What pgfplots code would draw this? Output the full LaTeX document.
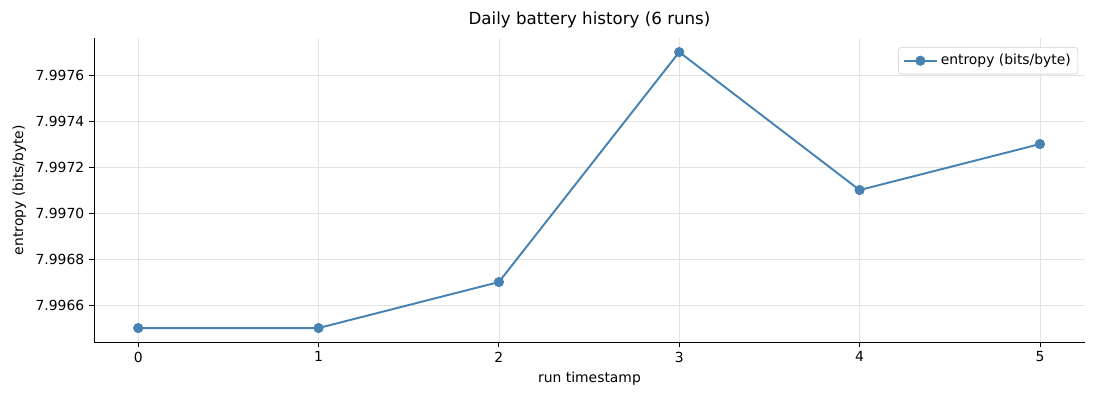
\documentclass[border=0pt]{standalone}
\usepackage{fontspec}
\setmainfont{DejaVu Sans}
\usepackage{pgfplots}
\pgfplotsset{compat=1.18}
\definecolor{steel}{HTML}{4682B4}
\begin{document}
\begin{tikzpicture}
\begin{axis}[
  scale only axis,
  width=713.5pt, height=218.9pt,
  xmin=-0.245, xmax=5.25,
  ymin=7.996439, ymax=7.997761,
  xtick={0,1,2,3,4,5},
  ytick={7.9966,7.9968,7.9970,7.9972,7.9974,7.9976},
  yticklabel style={/pgf/number format/fixed, /pgf/number format/precision=4, /pgf/number format/zerofill},
  /pgf/number format/assume math mode=true,
  tick label style={font=\fontsize{10}{12}\selectfont},
  label style={font=\fontsize{10}{12}\selectfont},
  title style={font=\fontsize{12}{14}\selectfont, yshift=-2pt},
  title={Daily battery history (6 runs)},
  xlabel={run timestamp},
  ylabel={entropy (bits/byte)},
  axis x line*=bottom, axis y line*=left,
  axis line style={-, black, line width=0.6pt},
  tick style={black, line width=0.6pt},
  tick align=outside, major tick length=3.5pt,
  grid=major,
  grid style={gray!22, line width=0.5pt},
  legend style={at={(0.993,0.97)}, anchor=north east, draw=gray!40, rounded corners=2pt,
    font=\fontsize{10}{12}\selectfont, inner xsep=3pt, inner ysep=3pt},
  legend cell align=left,
  legend image code/.code={
    \draw[#1, line width=1.4pt] (0pt,0pt) -- (24pt,0pt);
    \draw[#1, mark repeat=2, mark phase=2] plot coordinates {(0pt,0pt) (12pt,0pt) (24pt,0pt)};
  },
]
\addplot[color=steel, line width=1.4pt, mark=*, mark size=3.4pt, mark options={fill=steel, line width=0.5pt}]
coordinates {
  (0,7.99650)
  (1,7.99650)
  (2,7.99670)
  (3,7.99770)
  (4,7.99710)
  (5,7.99730)
};
\addlegendentry{entropy (bits/byte)}
\end{axis}
\pgfresetboundingbox
\path (current axis.south west) ++(-67.7pt,-41.8pt) coordinate (bl);
\path (current axis.north east) ++(10.8pt,27.4pt) coordinate (tr);
\path[use as bounding box] (bl) rectangle (tr);
\end{tikzpicture}
\end{document}
